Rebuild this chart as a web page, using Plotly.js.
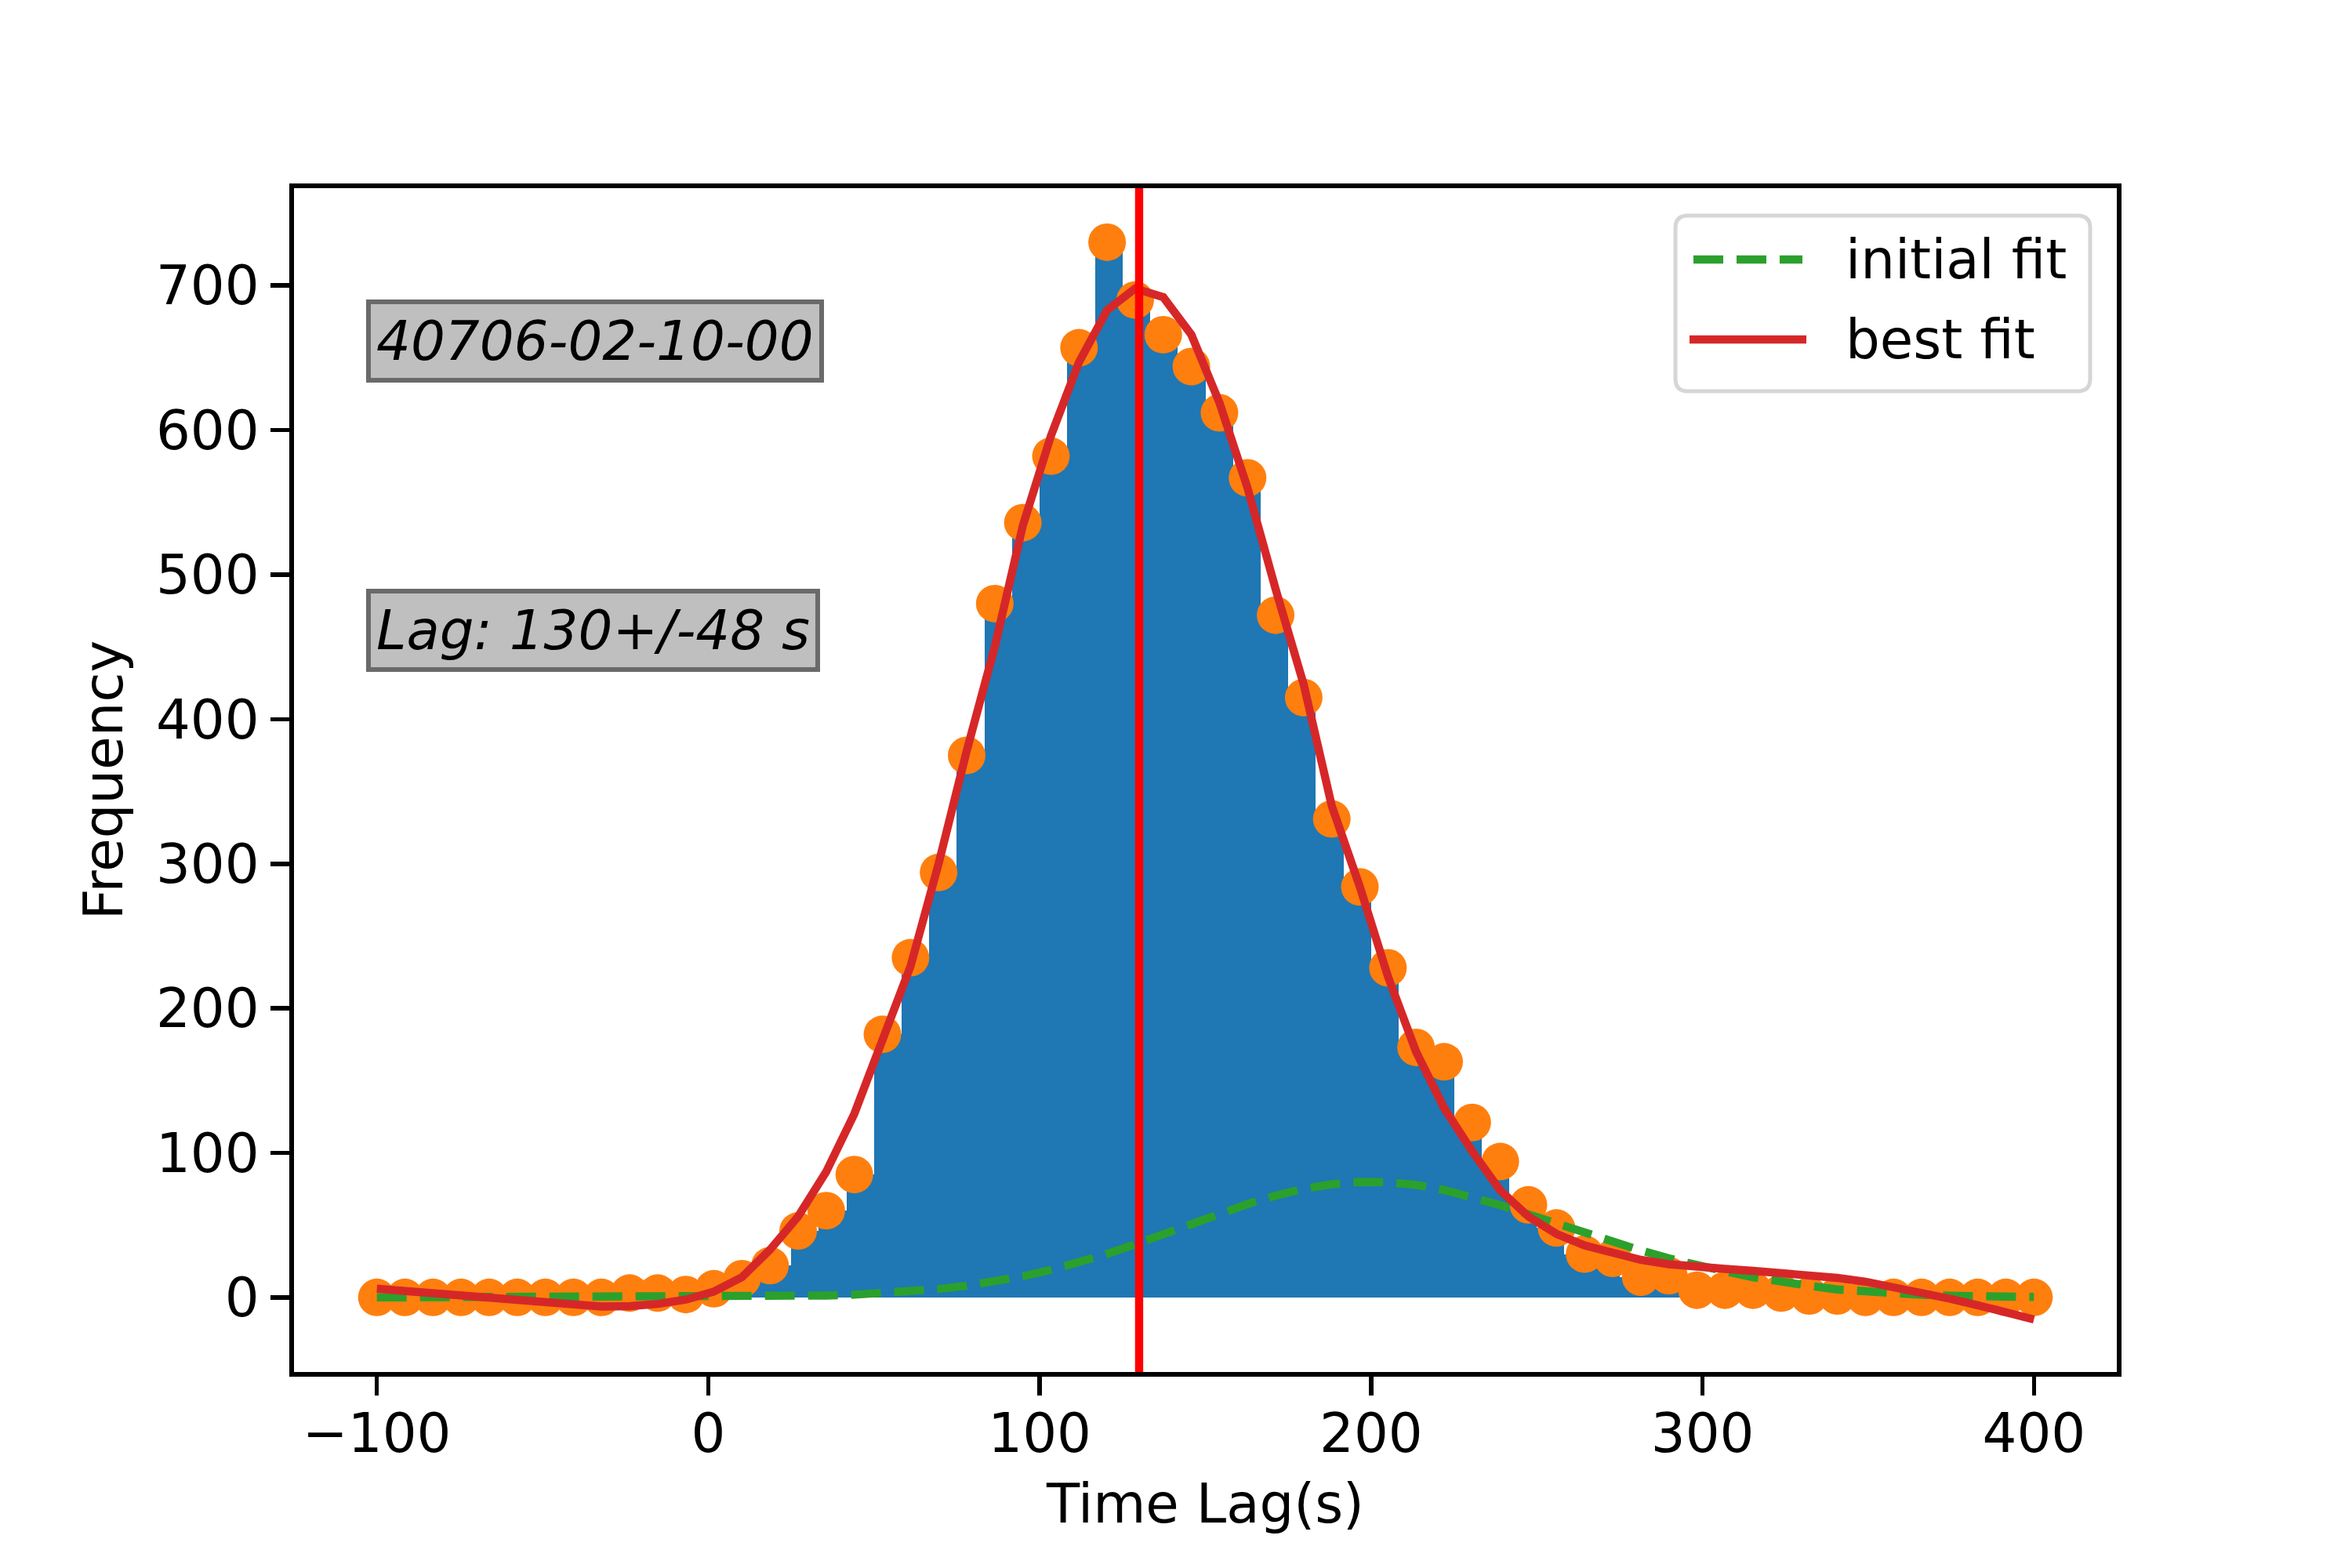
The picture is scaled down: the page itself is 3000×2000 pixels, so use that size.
<!DOCTYPE html>
<html>
<head>
<meta charset="utf-8">
<script src="https://cdn.plot.ly/plotly-3.0.1.min.js"></script>
<style>
  html, body { margin: 0; padding: 0; background: #ffffff; }
  #chart { width: 3000px; height: 2000px; }
</style>
</head>
<body>
<div id="chart"></div>
<script>
/* Time-lag histogram with initial / best fit curves */

// binning of the lag distribution (seconds)
const LAG_MIN = -100;
const LAG_MAX = 400;
const N_BINS = 60;

// measured lag and its error (s)
const LAG_BEST = 130;
const LAG_ERR = 48;
const OBS_ID = "40706-02-10-00";

// histogram counts, one per bin (also plotted as points)
const counts = [
  0, 0, 0, 0, 0, 0, 0, 0, 0, 3,
  3, 2, 6, 13, 22, 46, 60, 85, 182, 235,
  294, 375, 480, 536, 582, 657, 730, 690, 666, 644,
  612, 567, 472, 415, 331, 284, 228, 173, 163, 121,
  94, 64, 48, 30, 27, 14, 15, 5, 5, 5,
  3, 1, 1, 0, 0, 0, 0, 0, 0, 0,
];

// initial guess curve, sampled at the point positions
const initialFit = [
  0, 0, 0, 0, 0, 0, 0, 0, 0, 0,
  0, 0.1, 0.2, 0.3, 0.5, 0.8, 1.3, 1.9, 2.8, 4.1,
  5.8, 8.1, 11, 14.6, 19, 24.2, 30.1, 36.7, 43.7, 50.9,
  57.9, 64.6, 70.4, 75.1, 78.3, 79.9, 79.7, 77.8, 74.3, 69.3,
  63.8, 57.5, 51, 44.5, 38, 32.5, 27, 22, 18, 14,
  10.5, 8, 5.5, 4, 2.8, 1.8, 1.2, 0.8, 0.5, 0.3,
];

// best fit curve, sampled at the point positions
const bestFit = [
  6, 4.5, 3, 1.5, -0.5, -2.5, -4, -5.5, -6.3, -6,
  -4.5, -1.5, 4, 14, 33, 56, 87, 127, 177, 229,
  300, 378, 450, 534, 596, 647, 683, 698, 692, 666,
  619, 560, 490, 424, 340, 284, 222, 170, 131, 101,
  74, 56, 44, 36, 31, 26, 23, 20.7, 19.7, 18.4,
  16.9, 15.1, 13.5, 10.9, 7.2, 3.6, -0.9, -5.4, -9.9, -15.3,
];

const xTicks = [-100, 0, 100, 200, 300, 400];

/* ------------------------------ geometry ------------------------------ */

const binWidth = (LAG_MAX - LAG_MIN) / N_BINS;
const binCenters = counts.map((_, i) => LAG_MIN + binWidth * (i + 0.5));
const pointX = counts.map((_, i) => LAG_MIN + (i * (LAG_MAX - LAG_MIN)) / (counts.length - 1));

const FONT = "DejaVu Sans, Verdana, sans-serif";
const FS = 69;
const LW = 10.4;

const PLOT = { l: 375, r: 300, t: 240, b: 250, w: 3000, h: 2000 };
const plotW = PLOT.w - PLOT.l - PLOT.r;
const plotH = PLOT.h - PLOT.t - PLOT.b;
const px = (X) => (X - PLOT.l) / plotW;
const py = (Y) => (PLOT.h - PLOT.b - Y) / plotH;

function roundedRect(x0, y0, x1, y1, r) {
  // pixel corners -> paper path with rounded corners
  const rx = r / plotW;
  const ry = r / plotH;
  const L = px(x0), R = px(x1), T = py(y0), B = py(y1);
  return (
    `M${L + rx},${T} L${R - rx},${T} Q${R},${T} ${R},${T - ry} ` +
    `L${R},${B + ry} Q${R},${B} ${R - rx},${B} ` +
    `L${L + rx},${B} Q${L},${B} ${L},${B + ry} ` +
    `L${L},${T - ry} Q${L},${T} ${L + rx},${T} Z`
  );
}

/* ------------------------------- traces ------------------------------- */

const traces = [
  {
    type: "bar",
    x: binCenters,
    y: counts,
    width: binWidth,
    marker: { color: "#1f77b4", line: { width: 0 } },
    showlegend: false,
    hoverinfo: "skip",
  },
  {
    type: "scatter",
    mode: "markers",
    x: pointX,
    y: counts,
    marker: { color: "#ff7f0e", size: 48, line: { width: 0 } },
    showlegend: false,
  },
  {
    type: "scatter",
    mode: "lines",
    name: "initial fit",
    x: pointX,
    y: initialFit,
    line: { color: "#2ca02c", width: LW, dash: "38px,17px" },
    showlegend: false,
  },
  {
    type: "scatter",
    mode: "lines",
    name: "best fit",
    x: pointX,
    y: bestFit,
    line: { color: "#d62728", width: LW },
    showlegend: false,
  },
];

/* -------------------------- shapes / legend --------------------------- */

const shapes = [
  {
    type: "line",
    xref: "x",
    yref: "paper",
    x0: LAG_BEST,
    x1: LAG_BEST,
    y0: 0,
    y1: 1,
    line: { color: "#ff0000", width: LW },
    layer: "above",
  },
  {
    type: "path",
    xref: "paper",
    yref: "paper",
    path: roundedRect(2137, 275, 2666, 499, 16),
    fillcolor: "rgba(255,255,255,0.8)",
    line: { color: "#d6d6d6", width: 5 },
    layer: "above",
  },
  {
    type: "line",
    xref: "paper",
    yref: "paper",
    x0: px(2160),
    x1: px(2299),
    y0: py(331),
    y1: py(331),
    line: { color: "#2ca02c", width: LW, dash: "38px,17px" },
    layer: "above",
  },
  {
    type: "line",
    xref: "paper",
    yref: "paper",
    x0: px(2155),
    x1: px(2304),
    y0: py(433),
    y1: py(433),
    line: { color: "#d62728", width: LW },
    layer: "above",
  },
];

const boxText = {
  family: FONT,
  size: FS,
  color: "#000000",
  style: "italic",
};

function labelBox(y, text) {
  return {
    x: LAG_MIN,
    y: y,
    xref: "x",
    yref: "y",
    text: text,
    showarrow: false,
    xanchor: "left",
    yanchor: "bottom",
    xshift: -14,
    yshift: -32,
    font: boxText,
    bgcolor: "#bfbfbf",
    bordercolor: "#6a6a6a",
    borderwidth: 6,
    borderpad: 7,
  };
}

const annotations = [
  labelBox(650, OBS_ID),
  labelBox(450, `Lag: ${LAG_BEST}+/-${LAG_ERR} s`),
  {
    x: px(2352),
    y: py(331),
    xref: "paper",
    yref: "paper",
    text: "initial fit",
    showarrow: false,
    xanchor: "left",
    yanchor: "middle",
    font: { family: FONT, size: FS, color: "#000000" },
  },
  {
    x: px(2352),
    y: py(433),
    xref: "paper",
    yref: "paper",
    text: "best fit",
    showarrow: false,
    xanchor: "left",
    yanchor: "middle",
    font: { family: FONT, size: FS, color: "#000000" },
  },
];

/* ------------------------------- layout ------------------------------- */

const axisCommon = {
  showgrid: false,
  zeroline: false,
  showline: true,
  linecolor: "#000000",
  linewidth: 5.6,
  mirror: true,
  ticks: "outside",
  ticklen: 24,
  tickwidth: 5.6,
  tickcolor: "#000000",
  tickfont: { family: FONT, size: FS, color: "#000000" },
  automargin: false,
};

const layout = {
  width: PLOT.w,
  height: PLOT.h,
  margin: { l: PLOT.l, r: PLOT.r, t: PLOT.t, b: PLOT.b, pad: 0 },
  paper_bgcolor: "#ffffff",
  plot_bgcolor: "#ffffff",
  bargap: 0,
  showlegend: false,
  font: { family: FONT, size: FS, color: "#000000" },
  xaxis: Object.assign({}, axisCommon, {
    range: [-125, 425],
    tickmode: "array",
    tickvals: xTicks,
    ticklabelstandoff: -10,
    title: { text: "Time Lag(s)", font: { family: FONT, size: FS, color: "#000000" }, standoff: 28 },
  }),
  yaxis: Object.assign({}, axisCommon, {
    range: [-51.6, 767.4],
    tick0: 0,
    dtick: 100,
    ticklabelstandoff: 1,
    title: { text: "Frequency", font: { family: FONT, size: FS, color: "#000000" }, standoff: 22 },
  }),
  shapes: shapes,
  annotations: annotations,
};

Plotly.newPlot("chart", traces, layout, { displayModeBar: false, staticPlot: true });
</script>
</body>
</html>
